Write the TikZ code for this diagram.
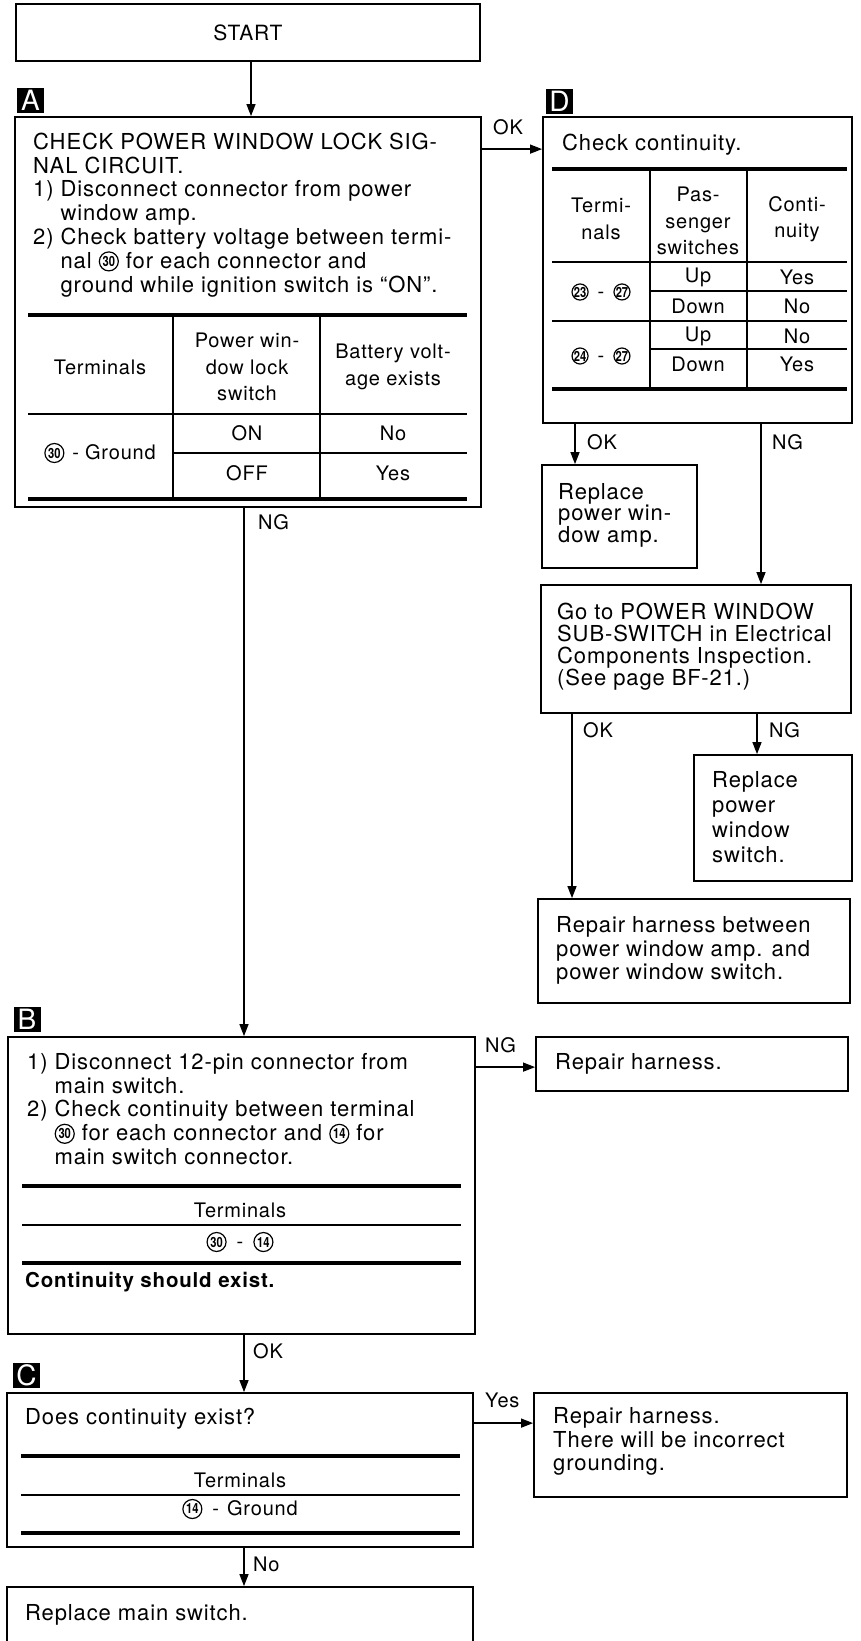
\documentclass[tikz,border=0pt]{standalone}
\usepackage{fontspec}
\setmainfont{TeX Gyre Heros}[LetterSpace=4]
\newfontfamily\cnumfont{TeX Gyre Heros}[FakeStretch=0.8]
\usetikzlibrary{arrows.meta}

\newcommand{\bodyfont}{\fontsize{22}{23.8}\selectfont}
\newcommand{\tabfont}{\fontsize{20}{26.5}\selectfont}
\newcommand{\lblfont}{\fontsize{20}{22}\selectfont}
\newcommand{\tagfont}{\fontsize{28}{28}\selectfont}
\newcommand{\fl}{\rule{0pt}{17pt}}
% circled terminal number
\newcommand{\cnum}[2][19pt]{\tikz[baseline={([yshift=-1.8pt]n.base)}]\node[circle,draw,line width=1.2pt,inner sep=0pt,minimum size=#1,font=\cnumfont\bfseries\fontsize{14}{14}\selectfont](n){#2};}

\tikzset{
  box/.style={draw, line width=1.8pt, inner sep=0pt},
  tag/.style={fill=black, text=white, font=\tagfont, minimum width=27pt, minimum height=25pt, inner sep=0pt},
  txt/.style={anchor=north west, align=left, inner sep=0pt, font=\bodyfont},
  cell/.style={align=center, inner sep=0pt, font=\tabfont},
  lbl/.style={anchor=west, inner sep=0pt, font=\lblfont},
  arr/.style={-{Triangle[length=12pt,width=9pt]}, line width=1.3pt},
  thick rule/.style={line width=3.5pt},
  thin rule/.style={line width=1.3pt}
}

\begin{document}
\begin{tikzpicture}[x=1pt,y=-1pt]
    \path[use as bounding box, clip] (0,0) rectangle (861,1641);
    \fill[white] (0,0) rectangle (861,1641);

    % Start and step A
    \node[box, minimum width=464pt, minimum height=57pt, font=\fontsize{21}{21}\selectfont] (start) at (248,32.5) {START};
    \node[tag] (tagA) at (30.5,100.5) {A};
    \node[box, minimum width=466pt, minimum height=390pt] (boxA) at (248,312) {};
    \node[txt] (txtA) at (33,132) {\fl CHECK POWER WINDOW LOCK SIG-\\
      NAL CIRCUIT.\\
      1) Disconnect connector from power\\
      \phantom{1) }window amp.\\
      2) Check battery voltage between termi-\\
      \phantom{2) }nal~\cnum{30} for each connector and\\
      \phantom{2) }ground while ignition switch is ``ON''.};

    % Table of step A
    \draw[thick rule] (28,315) -- (467,315);
    \draw[thin rule] (28,414) -- (467,414);
    \draw[thin rule] (173,453) -- (467,453);
    \draw[thick rule] (28,499) -- (467,499);
    \draw[thin rule] (173,315) -- (173,499);
    \draw[thin rule] (320,315) -- (320,499);
    \node[cell] (aTerm) at (100,367) {Terminals};
    \node[cell] (aSw) at (247,367) {Power win-\\dow lock\\switch};
    \node[cell] (aVolt) at (393,367) {Battery volt-\\age exists};
    \node[cell] (aOn) at (247,433) {ON};
    \node[cell] (aNo) at (393,433) {No};
    \node[cell] (aOff) at (247,473) {OFF};
    \node[cell] (aYes) at (393,473) {Yes};
    \node[cell] (aGnd) at (100,453) {\cnum{30}\hspace{8pt}-\hspace{6pt}Ground};

    % Step D
    \node[tag] (tagD) at (559.5,101) {D};
    \node[box, minimum width=309pt, minimum height=306pt] (boxD) at (697.5,270) {};
    \node[txt, anchor=base west] (txtD) at (562,150) {Check continuity.};
    \draw[thick rule] (552,169) -- (847,169);
    \draw[thin rule] (552,262) -- (847,262);
    \draw[thin rule] (650,291) -- (847,291);
    \draw[thin rule] (552,321) -- (847,321);
    \draw[thin rule] (650,349) -- (847,349);
    \draw[thick rule] (552,389) -- (847,389);
    \draw[thin rule] (650,169) -- (650,389);
    \draw[thin rule] (747,169) -- (747,389);
    \node[cell] (dTerm) at (601,219) {Termi-\\nals};
    \node[cell] (dPass) at (698,221) {Pas-\\senger\\switches};
    \node[cell] (dCont) at (797,219) {Conti-\\nuity};
    \node[cell] (dUpA) at (698,277) {Up};
    \node[cell] (dYesA) at (797,277) {Yes};
    \node[cell] (dDownA) at (698,306) {Down};
    \node[cell] (dNoA) at (797,306) {No};
    \node[cell] (dUpB) at (698,336) {Up};
    \node[cell] (dNoB) at (797,336) {No};
    \node[cell] (dDownB) at (698,364) {Down};
    \node[cell] (dYesB) at (797,364) {Yes};
    \node[cell] (dPairA) at (601,292) {\cnum[16pt]{23}\hspace{9pt}-\hspace{9pt}\cnum[16pt]{27}};
    \node[cell] (dPairB) at (601,356) {\cnum[16pt]{24}\hspace{9pt}-\hspace{9pt}\cnum[16pt]{27}};

    % Results of step D
    \node[box, minimum width=155pt, minimum height=103pt] (amp) at (619.5,516.5) {};
    \node[txt, font=\fontsize{22}{21.5}\selectfont] (txtAmp) at (558,482) {\fl Replace\\power win-\\dow amp.};
    \node[box, minimum width=310pt, minimum height=128pt] (goto) at (696,649) {};
    \node[txt, font=\fontsize{22}{22}\selectfont] (txtGoto) at (557,602) {\fl Go to POWER WINDOW\\SUB-SWITCH in Electrical\\Components Inspection.\\(See page BF-21.)};
    \node[box, minimum width=158pt, minimum height=126pt] (swit) at (773,818) {};
    \node[txt, font=\fontsize{22}{25}\selectfont] (txtSwit) at (712,770) {\fl Replace\\power\\window\\switch.};
    \node[box, minimum width=312pt, minimum height=104pt] (harn) at (694,951) {};
    \node[txt] (txtHarn) at (556,915) {\fl Repair harness between\\power window amp. and\\power window switch.};

    % Step B
    \node[tag] (tagB) at (27,1019.5) {B};
    \node[box, minimum width=467pt, minimum height=297pt] (boxB) at (241.5,1185.5) {};
    \node[txt] (txtB) at (27,1052) {\fl 1) Disconnect 12-pin connector from\\
      \phantom{1) }main switch.\\
      2) Check continuity between terminal\\
      \phantom{2) }\cnum{30} for each connector and \cnum{14} for\\
      \phantom{2) }main switch connector.};
    \draw[thick rule] (22,1186) -- (461,1186);
    \draw[thin rule] (22,1225) -- (461,1225);
    \draw[thick rule] (22,1263) -- (461,1263);
    \node[cell] (bTerm) at (240,1210) {Terminals};
    \node[cell] (bPair) at (240,1242) {\cnum{30}\hspace{10pt}-\hspace{10pt}\cnum{14}};
    \node[txt, anchor=base west, font=\fontsize{20.5}{23}\selectfont\bfseries] (bExist) at (25,1287) {Continuity should exist.};
    \node[box, minimum width=312pt, minimum height=54pt] (rep) at (692,1064) {};
    \node[txt, anchor=base west] (txtRep) at (555,1069) {Repair harness.};

    % Step C
    \node[tag] (tagC) at (26.5,1375) {C};
    \node[box, minimum width=466pt, minimum height=154pt] (boxC) at (240,1470) {};
    \node[txt, anchor=base west] (txtC) at (25,1424) {Does continuity exist?};
    \draw[thick rule] (21,1456) -- (460,1456);
    \draw[thin rule] (21,1495) -- (460,1495);
    \draw[thick rule] (21,1533) -- (460,1533);
    \node[cell] (cTerm) at (240,1480) {Terminals};
    \node[cell] (cGnd) at (240,1509) {\cnum{14}\hspace{10pt}-\hspace{8pt}Ground};
    \node[box, minimum width=313pt, minimum height=104pt] (grnd) at (690.5,1445) {};
    \node[txt] (txtGrnd) at (553,1406) {\fl Repair harness.\\There will be incorrect\\grounding.};
    \node[box, minimum width=466pt, minimum height=73pt] (mainsw) at (240,1623.5) {};
    \node[txt, anchor=base west] (txtMain) at (25,1620) {Replace main switch.};

    % Connectors
    \draw[arr] ([xshift=3pt]start.south) -- ([xshift=3pt]boxA.north);
    \draw[arr] ([yshift=-33pt]boxA.north east) -- ([yshift=-33pt]boxD.north west);
    \node[lbl] (okAD) at (493,127) {OK};
    \draw[arr] ([xshift=-122.5pt]boxD.south) -- ([xshift=-44.5pt]amp.north);
    \node[lbl] (okDA) at (587,442) {OK};
    \draw[arr] ([xshift=63.5pt]boxD.south) -- ([xshift=65pt]goto.north);
    \node[lbl] (ngDG) at (772,442) {NG};
    \draw[arr] ([xshift=-124pt]goto.south) -- ([xshift=-122pt]harn.north);
    \node[lbl] (okGH) at (583,730) {OK};
    \draw[arr] ([xshift=61pt]goto.south) -- ([xshift=-16pt]swit.north);
    \node[lbl] (ngGS) at (769,730) {NG};
    \draw[arr] ([xshift=-4pt]boxA.south) -- ([xshift=2.5pt]boxB.north);
    \node[lbl] (ngAB) at (258,522) {NG};
    \draw[arr] ([yshift=-31pt]boxB.north east) -- ([yshift=-31pt]rep.north west);
    \node[lbl] (ngBR) at (485,1045) {NG};
    \draw[arr] ([xshift=2.5pt]boxB.south) -- ([xshift=4pt]boxC.north);
    \node[lbl] (okBC) at (253,1351) {OK};
    \draw[arr] ([yshift=-31pt]boxC.north east) -- ([yshift=-31pt]grnd.north west);
    \node[lbl] (yesCG) at (485,1400) {Yes};
    \draw[arr] ([xshift=4pt]boxC.south) -- ([xshift=4pt]mainsw.north);
    \node[lbl] (noCM) at (253,1564) {No};
\end{tikzpicture}
\end{document}
